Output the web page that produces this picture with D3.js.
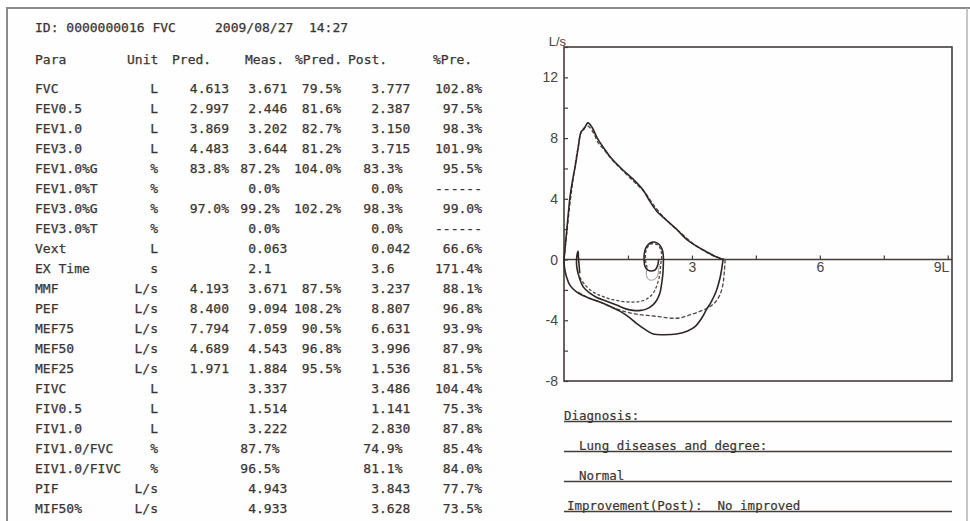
<!DOCTYPE html>
<html>
<head>
<meta charset="utf-8">
<script src="https://cdn.jsdelivr.net/npm/d3@7"></script>
<style>
body { margin: 0; background: #fff; }
svg { display: block; }
</style>
</head>
<body>
<svg id="report" width="970" height="521"></svg>
<script>
const headerLine = "ID: 0000000016 FVC     2009/08/27  14:27";
const columns = ["Para", "Unit", "Pred.", "Meas.", "%Pred.", "Post.", "%Pre."];
const params = ["FVC", "FEV0.5", "FEV1.0", "FEV3.0", "FEV1.0%G", "FEV1.0%T", "FEV3.0%G", "FEV3.0%T", "Vext", "EX Time", "MMF", "PEF", "MEF75", "MEF50", "MEF25", "FIVC", "FIV0.5", "FIV1.0", "FIV1.0/FVC", "EIV1.0/FIVC", "PIF", "MIF50%"];
const units = ["L", "L", "L", "L", "%", "%", "%", "%", "L", "s", "L/s", "L/s", "L/s", "L/s", "L/s", "L", "L", "L", "%", "%", "L/s", "L/s"];
const pred = ["4.613", "2.997", "3.869", "4.483", "83.8%", "", "97.0%", "", "", "", "4.193", "8.400", "7.794", "4.689", "1.971", "", "", "", "", "", "", ""];
const meas = ["3.671", "2.446", "3.202", "3.644", "87.2%", "0.0%", "99.2%", "0.0%", "0.063", "2.1", "3.671", "9.094", "7.059", "4.543", "1.884", "3.337", "1.514", "3.222", "87.7%", "96.5%", "4.943", "4.933"];
const pctPred = ["79.5%", "81.6%", "82.7%", "81.2%", "104.0%", "", "102.2%", "", "", "", "87.5%", "108.2%", "90.5%", "96.8%", "95.5%", "", "", "", "", "", "", ""];
const post = ["3.777", "2.387", "3.150", "3.715", "83.3%", "0.0%", "98.3%", "0.0%", "0.042", "3.6", "3.237", "8.807", "6.631", "3.996", "1.536", "3.486", "1.141", "2.830", "74.9%", "81.1%", "3.843", "3.628"];
const pctPre = ["102.8%", "97.5%", "98.3%", "101.9%", "95.5%", "------", "99.0%", "------", "66.6%", "171.4%", "88.1%", "96.8%", "93.9%", "87.9%", "81.5%", "104.4%", "75.3%", "87.8%", "85.4%", "84.0%", "77.7%", "73.5%"];

// flow-volume curves, [volume L, flow L/s]
const measExp = [[0, 0], [0.05, 1.5], [0.1, 3.0], [0.14, 4.1], [0.2, 5.2], [0.26, 6.1], [0.33, 7.3], [0.4, 8.4], [0.47, 8.6], [0.56, 9.0], [0.66, 8.7], [0.78, 8.0], [0.92, 7.4], [1.1, 6.7], [1.38, 5.9], [1.62, 5.3], [1.85, 4.6], [2.0, 3.9], [2.17, 3.2], [2.4, 2.6], [2.64, 2.0], [2.85, 1.4], [3.1, 0.9], [3.35, 0.5], [3.55, 0.2], [3.73, 0]];
const postExp = [[0, 0], [0.06, 1.6], [0.12, 3.2], [0.18, 4.6], [0.25, 6.0], [0.33, 7.4], [0.42, 8.5], [0.55, 8.8], [0.68, 8.4], [0.8, 7.7], [0.95, 7.2], [1.15, 6.5], [1.4, 5.8], [1.65, 5.1], [1.9, 4.4], [2.1, 3.6], [2.3, 2.9], [2.55, 2.2], [2.8, 1.6], [3.05, 1.0], [3.3, 0.55], [3.55, 0.2], [3.78, 0]];
const measInsp = [[3.73, 0], [3.7, -0.6], [3.66, -1.2], [3.58, -2.0], [3.45, -2.8], [3.34, -3.3], [3.22, -3.9], [3.08, -4.4], [2.9, -4.7], [2.64, -4.9], [2.35, -4.95], [2.09, -4.9], [1.9, -4.6], [1.7, -4.2], [1.5, -3.75], [1.31, -3.4], [1.05, -3.05], [0.84, -2.8], [0.55, -2.5], [0.3, -2.15], [0.14, -1.7], [0.06, -1.15], [0.01, -0.5], [0, 0]];
const postInsp = [[3.78, 0], [3.76, -0.8], [3.73, -1.6], [3.66, -2.3], [3.55, -2.8], [3.4, -3.15], [3.2, -3.4], [2.95, -3.65], [2.7, -3.85], [2.45, -3.85], [2.2, -3.75], [1.95, -3.68], [1.7, -3.6], [1.45, -3.45], [1.23, -3.25], [1.0, -3.0], [0.8, -2.75], [0.6, -2.55], [0.45, -2.35], [0.3, -2.1]];
const measTidal = [[0.37, -0.9], [0.34, 0.1], [0.33, 0.55], [0.3, 0.2], [0.3, -0.5], [0.36, -1.2], [0.45, -1.8], [0.6, -2.2], [0.77, -2.5], [1.0, -2.75], [1.23, -3.0], [1.45, -3.25], [1.62, -3.35], [1.8, -3.35], [1.94, -3.25], [2.08, -3.0], [2.17, -2.7], [2.25, -2.2], [2.29, -1.6], [2.32, -0.9], [2.33, -0.3], [2.33, 0.2], [2.31, 0.6], [2.26, 0.9], [2.18, 1.1], [2.08, 1.15], [1.98, 1.0], [1.91, 0.7], [1.88, 0.3], [1.88, -0.1], [1.9, -0.45], [1.97, -0.7], [2.06, -0.75], [2.15, -0.65], [2.2, -0.35], [2.22, 0.0]];
const postTidal = [[0.37, -1.16], [0.5, -1.7], [0.69, -2.15], [0.88, -2.4], [1.08, -2.6], [1.35, -2.75], [1.62, -2.8], [1.8, -2.75], [1.94, -2.6], [2.05, -2.35], [2.13, -2.04], [2.2, -1.5], [2.25, -0.94], [2.27, -0.3], [2.29, 0.2], [2.27, 0.65], [2.2, 0.95], [2.1, 1.05], [2.0, 0.95], [1.93, 0.65], [1.91, 0.25], [1.92, -0.2], [1.95, -0.5]];
const faintLoop = [[1.95, -0.5], [1.93, -0.95], [1.98, -1.3], [2.08, -1.35], [2.18, -1.15], [2.22, -0.7], [2.24, -0.3]];

const yTicks = [-8, -6, -4, -2, 0, 2, 4, 6, 8, 10, 12, 14];
const yTickLabels = [12, 8, 4, 0, -4, -8];
const xTicks = [1.5, 3, 4.5, 6, 7.5, 9];
const xTickLabels = { 3: "3", 6: "6", 9: "9L" };

const diagnosisLines = ["Diagnosis:", "  Lung diseases and degree:", "  Normal", "Improvement(Post):  No improved"];

const svg = d3.select("#report");
const ink = "#3a3431";
const mono = "'DejaVu Sans Mono', monospace";
const fs = 13;
const cw = fs * 0.602;

svg.append("rect")
	.attr("width", 970)
	.attr("height", 521)
	.attr("fill", "#fefefe");

// page frame
svg.append("path")
	.attr("d", "M7,521V8H970")
	.attr("fill", "none")
	.attr("stroke", "#8d8b8a")
	.attr("stroke-width", 2);
svg.append("line")
	.attr("x1", 967).attr("y1", 8).attr("x2", 967).attr("y2", 521)
	.attr("stroke", "#b5b3b2")
	.attr("stroke-width", 1.5);

// ---- table ----
const txt = svg.append("g")
	.attr("font-family", mono)
	.attr("font-size", fs)
	.attr("fill", ink)
	.attr("stroke", ink)
	.attr("stroke-width", 0.25);

txt.append("text")
	.attr("xml:space", "preserve")
	.attr("x", 35)
	.attr("y", 27)
	.attr("dominant-baseline", "central")
	.text(headerLine);

const headX = [35, 127, 172, 245, 295, 348, 433];
txt.selectAll(".head")
	.data(columns)
	.join("text")
	.attr("x", (d, i) => headX[i])
	.attr("y", 59)
	.attr("dominant-baseline", "central")
	.text(d => d);

const row = d3.scalePoint()
	.domain(d3.range(params.length))
	.range([88, 508]);

function rightCol(values, x) {
	txt.append("g").selectAll("text")
		.data(values)
		.join("text")
		.attr("x", x)
		.attr("y", (d, i) => row(i))
		.attr("text-anchor", "end")
		.attr("dominant-baseline", "central")
		.text(d => d);
}
function dotCol(values, dotLeft) {
	txt.append("g").selectAll("text")
		.data(values)
		.join("text")
		.attr("x", d => dotLeft - Math.max(d.indexOf("."), 0) * cw)
		.attr("y", (d, i) => row(i))
		.attr("dominant-baseline", "central")
		.text(d => d);
}

txt.append("g").selectAll("text")
	.data(params)
	.join("text")
	.attr("x", 35)
	.attr("y", (d, i) => row(i))
	.attr("dominant-baseline", "central")
	.text(d => d);
rightCol(units, 158);
rightCol(pred, 229);
dotCol(meas, 256);
rightCol(pctPred, 341);
dotCol(post, 379);
rightCol(pctPre, 482);

// ---- flow-volume plot ----
const x = d3.scaleLinear().domain([0, 9.1]).range([564, 952]);
const y = d3.scaleLinear().domain([-8, 14]).range([381, 47]);
const axisFont = "'Liberation Sans', Arial, sans-serif";

svg.append("rect")
	.attr("x", x(0))
	.attr("y", y(14))
	.attr("width", x(9.1) - x(0))
	.attr("height", y(-8) - y(14))
	.attr("fill", "none")
	.attr("stroke", "#443d3a")
	.attr("stroke-width", 1.6);

const yAxis = svg.append("g")
	.attr("transform", `translate(${x(0)},0)`)
	.call(d3.axisLeft(y)
		.tickValues(yTicks)
		.tickSizeInner(-4)
		.tickSizeOuter(0)
		.tickPadding(6)
		.tickFormat(d => yTickLabels.includes(d) ? String(d) : ""));
yAxis.select(".domain").remove();
yAxis.selectAll("line").attr("stroke", "#443d3a").attr("stroke-width", 1.2);
yAxis.selectAll("text")
	.attr("font-family", axisFont)
	.attr("font-size", 14)
	.attr("fill", "#4a4442");

const xAxis = svg.append("g")
	.attr("transform", `translate(0,${y(0)})`)
	.call(d3.axisBottom(x)
		.tickValues(xTicks)
		.tickSizeInner(-4)
		.tickSizeOuter(0)
		.tickPadding(3)
		.tickFormat(d => xTickLabels[d] || ""));
xAxis.select(".domain")
	.attr("d", `M${x(0)},0H${x(9.1)}`)
	.attr("stroke", "#443d3a")
	.attr("stroke-width", 1.4);
xAxis.selectAll("line").attr("stroke", "#443d3a").attr("stroke-width", 1.2);
xAxis.selectAll("text")
	.attr("font-family", axisFont)
	.attr("font-size", 14)
	.attr("fill", "#4a4442")
	.filter(d => d === 9)
	.attr("text-anchor", "end")
	.attr("dx", 1);

svg.append("text")
	.attr("x", 566)
	.attr("y", 46)
	.attr("text-anchor", "end")
	.attr("font-family", axisFont)
	.attr("font-size", 13)
	.attr("fill", "#4a4442")
	.text("L/s");

const line = d3.line()
	.x(d => x(d[0]))
	.y(d => y(d[1]))
	.curve(d3.curveCatmullRom);

const curves = [
	{ data: faintLoop, stroke: "#9b9593", width: 1, dash: null },
	{ data: postExp, stroke: "#4d4543", width: 1.3, dash: "4,2" },
	{ data: measExp, stroke: "#2e2725", width: 1.6, dash: null },
	{ data: postInsp, stroke: "#4d4543", width: 1.3, dash: "4,2" },
	{ data: measInsp, stroke: "#2e2725", width: 1.6, dash: null },
	{ data: postTidal, stroke: "#4d4543", width: 1.3, dash: "3,2" },
	{ data: measTidal, stroke: "#2e2725", width: 1.6, dash: null }
];
svg.append("g").selectAll("path")
	.data(curves)
	.join("path")
	.attr("d", d => line(d.data))
	.attr("fill", "none")
	.attr("stroke", d => d.stroke)
	.attr("stroke-width", d => d.width)
	.attr("stroke-dasharray", d => d.dash)
	.attr("stroke-linejoin", "round");

// ---- diagnosis block ----
const diagY = d3.scalePoint()
	.domain(d3.range(diagnosisLines.length))
	.range([421.5, 511.5]);
const diag = svg.append("g");
diag.selectAll("line")
	.data(diagnosisLines)
	.join("line")
	.attr("x1", 564)
	.attr("x2", 952)
	.attr("y1", (d, i) => diagY(i))
	.attr("y2", (d, i) => diagY(i))
	.attr("stroke", "#443d3a")
	.attr("stroke-width", 1.3);
diag.selectAll("text")
	.data(diagnosisLines)
	.join("text")
	.attr("xml:space", "preserve")
	.attr("x", (d, i) => i === 3 ? 567 : 564)
	.attr("y", (d, i) => diagY(i) - 1.5)
	.attr("font-family", mono)
	.attr("font-size", 12.5)
	.attr("fill", ink)
	.attr("stroke", ink)
	.attr("stroke-width", 0.2)
	.text(d => d);
</script>
</body>
</html>
